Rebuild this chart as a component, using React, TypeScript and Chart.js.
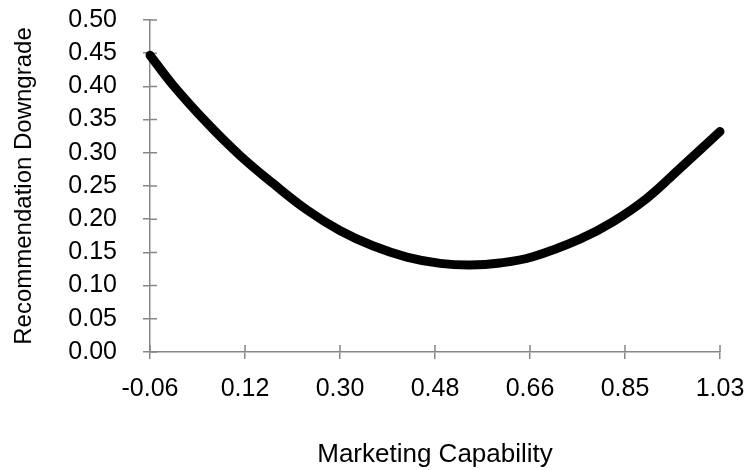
import React, { useEffect, useRef } from "react";
import { Chart, registerables } from "chart.js";

Chart.register(...registerables);

// Curve data (Marketing Capability -> Recommendation Downgrade)
const xValues = [-0.06, -0.016, 0.049, 0.112, 0.175, 0.24, 0.303, 0.366, 0.431, 0.495, 0.552, 0.609, 0.672, 0.762, 0.825, 0.891, 0.954, 1.03];
const yValues = [0.447, 0.402, 0.345, 0.296, 0.254, 0.214, 0.183, 0.16, 0.143, 0.1335, 0.131, 0.134, 0.1435, 0.17, 0.196, 0.232, 0.277, 0.332];

// Axis ticks
const xTickValues = [-0.06, 0.1217, 0.3033, 0.485, 0.6667, 0.8483, 1.03];
const xTickLabels = ["-0.06", "0.12", "0.30", "0.48", "0.66", "0.85", "1.03"];
const yTickValues = [0, 0.05, 0.1, 0.15, 0.2, 0.25, 0.3, 0.35, 0.4, 0.45, 0.5];

const xTitle = "Marketing Capability";
const yTitle = "Recommendation Downgrade";

const AXIS_COLOR = "#878787";
const FONT = "'Liberation Sans', Arial, sans-serif";

const crossTicks = {
  id: "crossTicks",
  beforeDatasetsDraw(chart: any) {
    const ctx = chart.ctx;
    const xs = chart.scales.x;
    const ys = chart.scales.y;
    ctx.save();
    ctx.strokeStyle = AXIS_COLOR;
    ctx.lineWidth = 1.5;
    ctx.beginPath();
    xs.ticks.forEach((t: any) => {
      const px = xs.getPixelForValue(t.value);
      ctx.moveTo(px, ys.bottom);
      ctx.lineTo(px, ys.bottom - 7);
    });
    ys.ticks.forEach((t: any) => {
      const py = ys.getPixelForValue(t.value);
      ctx.moveTo(xs.left, py);
      ctx.lineTo(xs.left + 7, py);
    });
    ctx.stroke();
    ctx.restore();
  },
};

export default function App() {
  const ref = useRef<HTMLCanvasElement>(null);

  useEffect(() => {
    if (!ref.current) return;
    const chart = new Chart(ref.current, {
      type: "line",
      data: {
        datasets: [
          {
            data: xValues.map((x, i) => ({ x, y: yValues[i] })),
            borderColor: "#000000",
            borderWidth: 9,
            pointRadius: 0,
            tension: 0.4,
            borderCapStyle: "round",
            borderJoinStyle: "round",
            fill: false,
            clip: false as any,
          },
        ],
      },
      options: {
        responsive: false,
        animation: false,
        layout: { padding: { top: 20, right: 33, left: 0, bottom: 0 } },
        plugins: { legend: { display: false }, tooltip: { enabled: false } },
        scales: {
          x: {
            type: "linear",
            min: -0.06,
            max: 1.03,
            afterBuildTicks: (scale: any) => {
              scale.ticks = xTickValues.map((v) => ({ value: v }));
            },
            afterFit: (scale: any) => {
              scale.height = 118;
              scale.paddingLeft = 0;
              scale.paddingRight = 0;
            },
            ticks: {
              autoSkip: false,
              maxRotation: 0,
              minRotation: 0,
              padding: 15,
              color: "#000000",
              font: { family: FONT, size: 25 },
              callback: (_v: any, i: number) => xTickLabels[i],
            },
            grid: {
              display: true,
              drawOnChartArea: false,
              drawTicks: true,
              tickLength: 7,
              color: AXIS_COLOR,
              lineWidth: 1.5,
            },
            border: { display: true, color: AXIS_COLOR, width: 1.5 },
            title: {
              display: true,
              text: xTitle,
              color: "#000000",
              font: { family: FONT, size: 26 },
              padding: { top: 0, bottom: 0 },
            },
          },
          y: {
            type: "linear",
            min: 0,
            max: 0.5,
            afterBuildTicks: (scale: any) => {
              scale.ticks = yTickValues.map((v) => ({ value: v }));
            },
            afterFit: (scale: any) => {
              scale.width = 150;
              scale.paddingTop = 0;
              scale.paddingBottom = 0;
            },
            ticks: {
              autoSkip: false,
              padding: 26,
              color: "#000000",
              font: { family: FONT, size: 25 },
              callback: (v: any) => Number(v).toFixed(2),
            },
            grid: {
              display: true,
              drawOnChartArea: false,
              drawTicks: true,
              tickLength: 7,
              color: AXIS_COLOR,
              lineWidth: 1.5,
            },
            border: { display: true, color: AXIS_COLOR, width: 1.5 },
            title: {
              display: true,
              text: yTitle,
              color: "#000000",
              font: { family: FONT, size: 24 },
              padding: { top: 10, bottom: 0 },
            },
          },
        },
      },
      plugins: [crossTicks],
    } as any);
    return () => chart.destroy();
  }, []);

  return (
    <div style={{ position: "absolute", left: 0, top: 0, width: 753, height: 470, background: "#ffffff" }}>
      <canvas ref={ref} width={753} height={470} />
    </div>
  );
}
